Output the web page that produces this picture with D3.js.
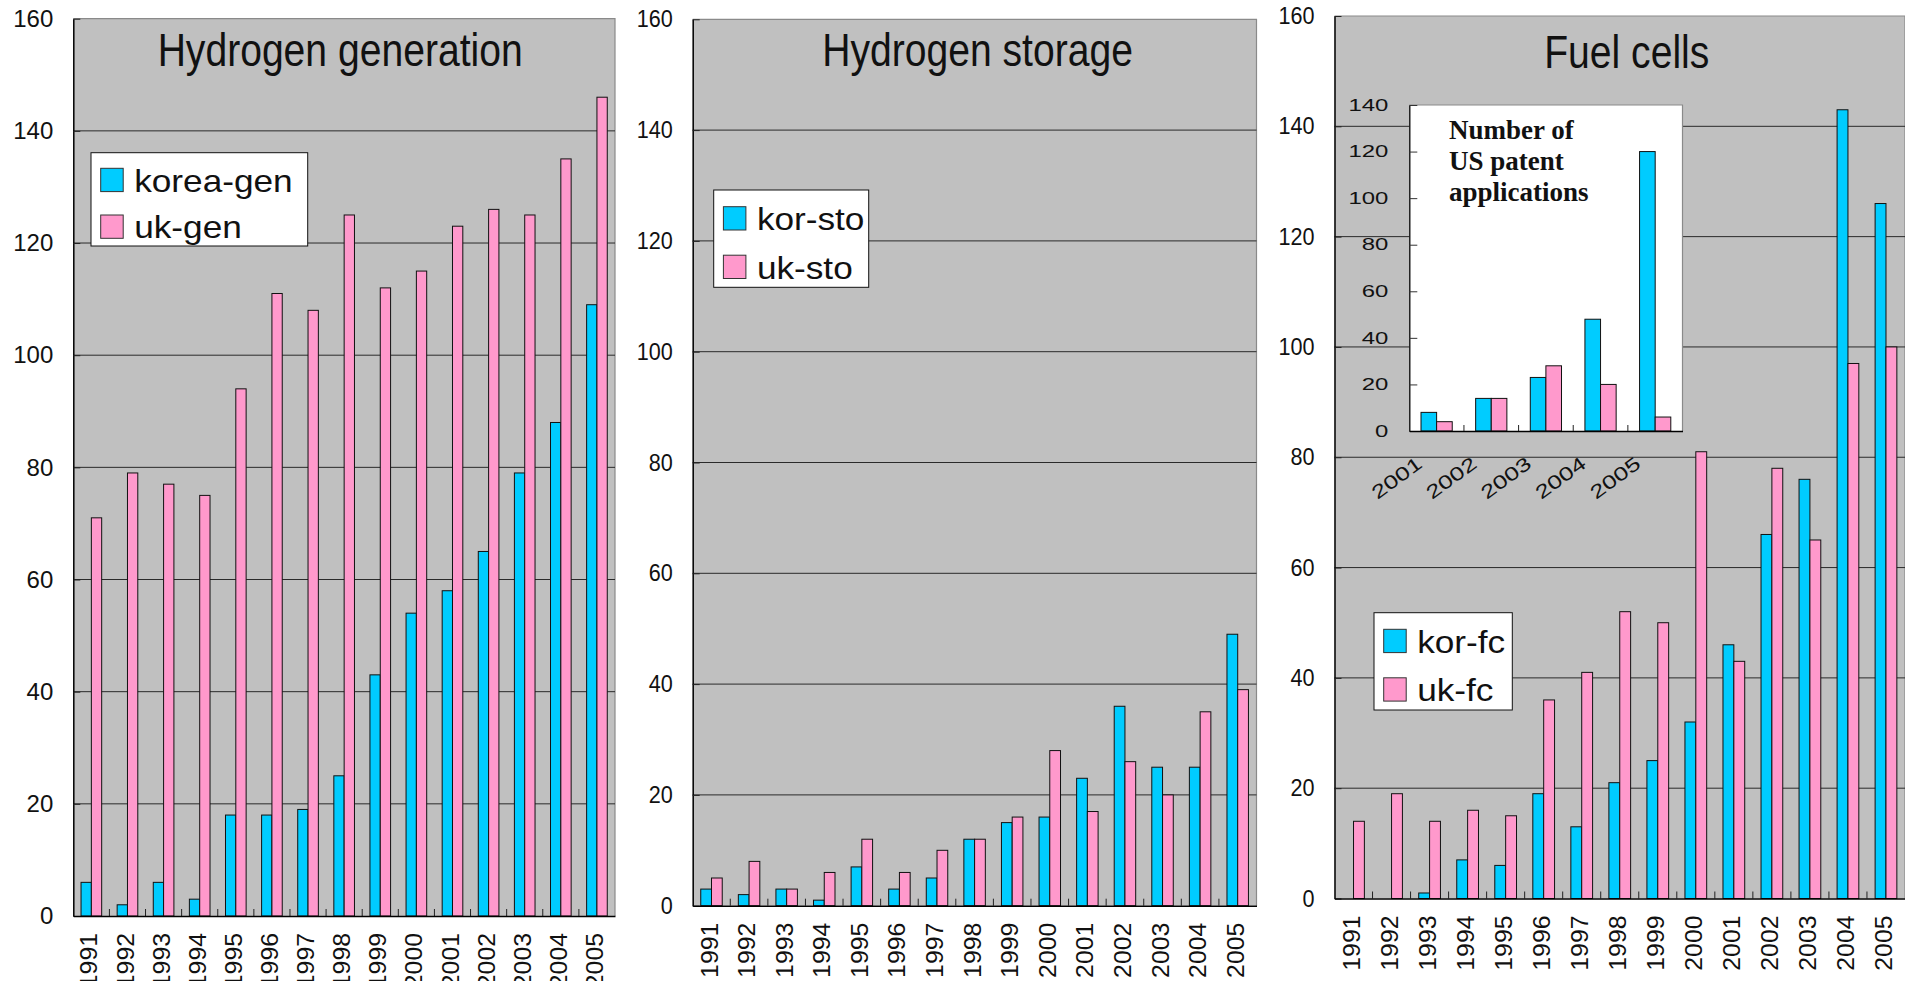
<!DOCTYPE html>
<html><head><meta charset="utf-8">
<script src="https://cdn.jsdelivr.net/npm/d3@7"></script>
<style>
html,body{margin:0;padding:0;background:#fff;}
svg{display:block;}
text{fill:#111;}
</style></head><body>
<svg id="chart" width="1905" height="981"></svg>
<script>
// ---------------- data ----------------
const years = ["1991","1992","1993","1994","1995","1996","1997","1998","1999","2000","2001","2002","2003","2004","2005"];
const genKorea = [6,2,6,3,18,18,19,25,43,54,58,65,79,88,109];
const genUK    = [71,79,77,75,94,111,108,125,112,115,123,126,125,135,146];
const stoKorea = [3,2,3,1,7,3,5,12,15,16,23,36,25,25,49];
const stoUK    = [5,8,3,6,12,6,10,12,16,28,17,26,20,35,39];
const fcKorea  = [0,0,1,7,6,19,13,21,25,32,46,66,76,143,126];
const fcUK     = [14,19,14,16,15,36,41,52,50,81,43,78,65,97,100];
const mainTicks = [0,20,40,60,80,100,120,140,160];

const insetYears = ["2001","2002","2003","2004","2005"];
const usKorea = [8,14,23,48,120];
const usUK    = [4,14,28,20,6];
const insetTicks = [0,20,40,60,80,100,120,140];
const insetTitle = ["Number of","US patent","applications"];

const panelTitles = ["Hydrogen generation","Hydrogen storage","Fuel cells"];
const legendNames = [["korea-gen","uk-gen"],["kor-sto","uk-sto"],["kor-fc","uk-fc"]];
const koreaSeries = [genKorea, stoKorea, fcKorea];
const ukSeries = [genUK, stoUK, fcUK];

// ---------------- style / layout ----------------
const SANS = "'Liberation Sans', Arial, sans-serif";
const SERIF = "'Liberation Serif', 'Times New Roman', serif";
const BLUE = "#00CCFF", PINK = "#FF99CC", PLOT_BG = "#C0C0C0", BORDER = "#8a8a8a";
const layouts = [
  {left:73.3, right:615, bottom:916, top:18.7, titleY:65.7, titleDx:-4, yLabScale:1.0,
   legend:{x:91, y:152.7, w:216.7, h:93.3, row:46.7, pad:15.6}},
  {left:692.7, right:1256.5, bottom:905.7, top:19.3, titleY:65.7, titleDx:3, yLabScale:0.9,
   legend:{x:713.7, y:190, w:155, h:97.3, row:48.5, pad:16.7}},
  {left:1334.5, right:1905, bottom:898.5, top:16, titleY:68.3, titleDx:7, yLabScale:0.9,
   legend:{x:1374, y:612.7, w:138.3, h:97.3, row:48.5, pad:16.6}}
];
const inset = {left:1409.3, right:1682.5, bottom:431, top:105, titleX:1449, titleY:[139.3,170,201]};

const svg = d3.select("#chart");
const PI = 1.5/3.5, PO = 0.75/3.5;

function drawBars(g, x, y, seriesList, colors, cats) {
  const xs = d3.scaleBand().domain(d3.range(seriesList.length)).range([0, x.bandwidth()]);
  seriesList.forEach((vals, s) => {
    g.append("g").selectAll("rect")
      .data(vals.map((v,i)=>({v, c:cats[i]})).filter(d=>d.v>0))
      .join("rect")
      .attr("x", d => x(d.c) + xs(s))
      .attr("y", d => y(d.v))
      .attr("width", xs.bandwidth())
      .attr("height", d => y(0) - y(d.v))
      .attr("fill", colors[s])
      .attr("stroke", "#111")
      .attr("stroke-width", 1);
  });
}

function drawPanel(p) {
  const L = layouts[p];
  const g = svg.append("g");
  const x = d3.scaleBand().domain(years).range([L.left, L.right]).paddingInner(PI).paddingOuter(PO);
  const y = d3.scaleLinear().domain([0,160]).range([L.bottom, L.top]);

  g.append("rect").attr("x", L.left).attr("y", L.top)
    .attr("width", L.right - L.left).attr("height", L.bottom - L.top).attr("fill", PLOT_BG);
  g.append("path").attr("d", `M${L.left},${L.top}H${L.right}V${L.bottom}`)
    .attr("fill","none").attr("stroke", BORDER).attr("stroke-width",1.2);

  g.append("g").selectAll("line").data(mainTicks.filter(t => t>0 && t<160)).join("line")
    .attr("x1", L.left).attr("x2", L.right)
    .attr("y1", d => y(d)).attr("y2", d => y(d))
    .attr("stroke", "#2a2a2a").attr("stroke-width", 1);

  drawBars(g, x, y, [koreaSeries[p], ukSeries[p]], [BLUE, PINK], years);

  g.append("g").selectAll("line").data(d3.range(1, years.length)).join("line")
    .attr("x1", i => L.left + i * x.step()).attr("x2", i => L.left + i * x.step())
    .attr("y1", L.bottom).attr("y2", L.bottom - 7)
    .attr("stroke", "#222").attr("stroke-width", 1);

  const yAx = g.append("g").attr("transform", `translate(${L.left},0)`)
    .call(d3.axisLeft(y).tickValues(mainTicks).tickSizeInner(-7).tickSizeOuter(0).tickPadding(20/L.yLabScale));
  yAx.select(".domain").attr("stroke", "#000").attr("stroke-width", 1.5);
  yAx.selectAll(".tick line").attr("stroke", "#222");
  yAx.selectAll("text").attr("font-size", null).attr("font-family", null)
    .style("font-size", "24px").style("font-family", SANS)
    .attr("fill", "#222").attr("transform", `scale(${L.yLabScale},1)`);

  const xAx = g.append("g").attr("transform", `translate(0,${L.bottom})`)
    .call(d3.axisBottom(x).tickSize(0).tickSizeOuter(0));
  xAx.select(".domain").attr("stroke", "#000").attr("stroke-width", 1.5);
  xAx.selectAll("text").attr("y", 0).attr("dy", "0.35em").attr("text-anchor", "end")
    .style("font-size", "23px").style("font-family", SANS).attr("fill", "#222")
    .attr("transform", "translate(-2,17) rotate(-90) scale(1.08,1)");

  g.append("text").attr("text-anchor", "middle")
    .style("font-size", "46px").style("font-family", SANS)
    .attr("transform", `translate(${(L.left+L.right)/2 + L.titleDx},${L.titleY}) scale(0.85,1)`)
    .text(panelTitles[p]);

  const lg = L.legend;
  const leg = g.append("g");
  leg.append("rect").attr("x", lg.x).attr("y", lg.y).attr("width", lg.w).attr("height", lg.h)
    .attr("fill", "#fff").attr("stroke", "#111").attr("stroke-width", 1);
  legendNames[p].forEach((name, k) => {
    const sy = lg.y + lg.pad + k * lg.row;
    leg.append("rect").attr("x", lg.x + 9.7).attr("y", sy).attr("width", 22.5).attr("height", 23.3)
      .attr("fill", k === 0 ? BLUE : PINK).attr("stroke", "#333").attr("stroke-width", 1);
    leg.append("text").style("font-size", "32px").style("font-family", SANS)
      .attr("transform", `translate(${lg.x + 9.7 + 22.5 + 11},${sy + 23.3}) scale(1.1,1)`)
      .text(name);
  });
}

[0,1,2].forEach(drawPanel);

// ---------------- inset ----------------
(function(){
  const I = inset;
  const g = svg.append("g");
  const x = d3.scaleBand().domain(insetYears).range([I.left, I.right]).paddingInner(PI).paddingOuter(PO);
  const y = d3.scaleLinear().domain([0,140]).range([I.bottom, I.top]);
  g.append("rect").attr("x", I.left).attr("y", I.top).attr("width", I.right - I.left)
    .attr("height", I.bottom - I.top).attr("fill", "#fff");
  g.append("path").attr("d", `M${I.left},${I.top}H${I.right}V${I.bottom}`)
    .attr("fill","none").attr("stroke", BORDER).attr("stroke-width",1.2);

  drawBars(g, x, y, [usKorea, usUK], [BLUE, PINK], insetYears);

  g.append("g").selectAll("line").data(d3.range(1, insetYears.length)).join("line")
    .attr("x1", i => I.left + i * x.step()).attr("x2", i => I.left + i * x.step())
    .attr("y1", I.bottom).attr("y2", I.bottom - 6)
    .attr("stroke", "#222").attr("stroke-width", 1);

  const yAx = g.append("g").attr("transform", `translate(${I.left},0)`)
    .call(d3.axisLeft(y).tickValues(insetTicks).tickSizeInner(-8).tickSizeOuter(0).tickPadding(21/1.45));
  yAx.select(".domain").attr("stroke", "#000").attr("stroke-width", 1.3);
  yAx.selectAll(".tick line").attr("stroke", "#333");
  yAx.selectAll("text").style("font-size", "16.5px").style("font-family", SANS).attr("fill", "#222")
    .attr("transform", "scale(1.45,1)");

  const xAx = g.append("g").attr("transform", `translate(0,${I.bottom})`)
    .call(d3.axisBottom(x).tickSize(0).tickSizeOuter(0));
  xAx.select(".domain").attr("stroke", "#000").attr("stroke-width", 1.3);
  xAx.selectAll("text").attr("y", 0).attr("dy", "0.35em").attr("text-anchor", "end")
    .style("font-size", "19px").style("font-family", SANS).attr("fill", "#222")
    .attr("transform", "translate(-17,30) rotate(-36) scale(1.35,1)");

  insetTitle.forEach((line, k) => {
    g.append("text").attr("x", I.titleX).attr("y", I.titleY[k])
      .style("font-family", SERIF).style("font-weight", "bold").style("font-size", "27px")
      .attr("fill", "#000")
      .text(line);
  });
})();
</script>
</body></html>
